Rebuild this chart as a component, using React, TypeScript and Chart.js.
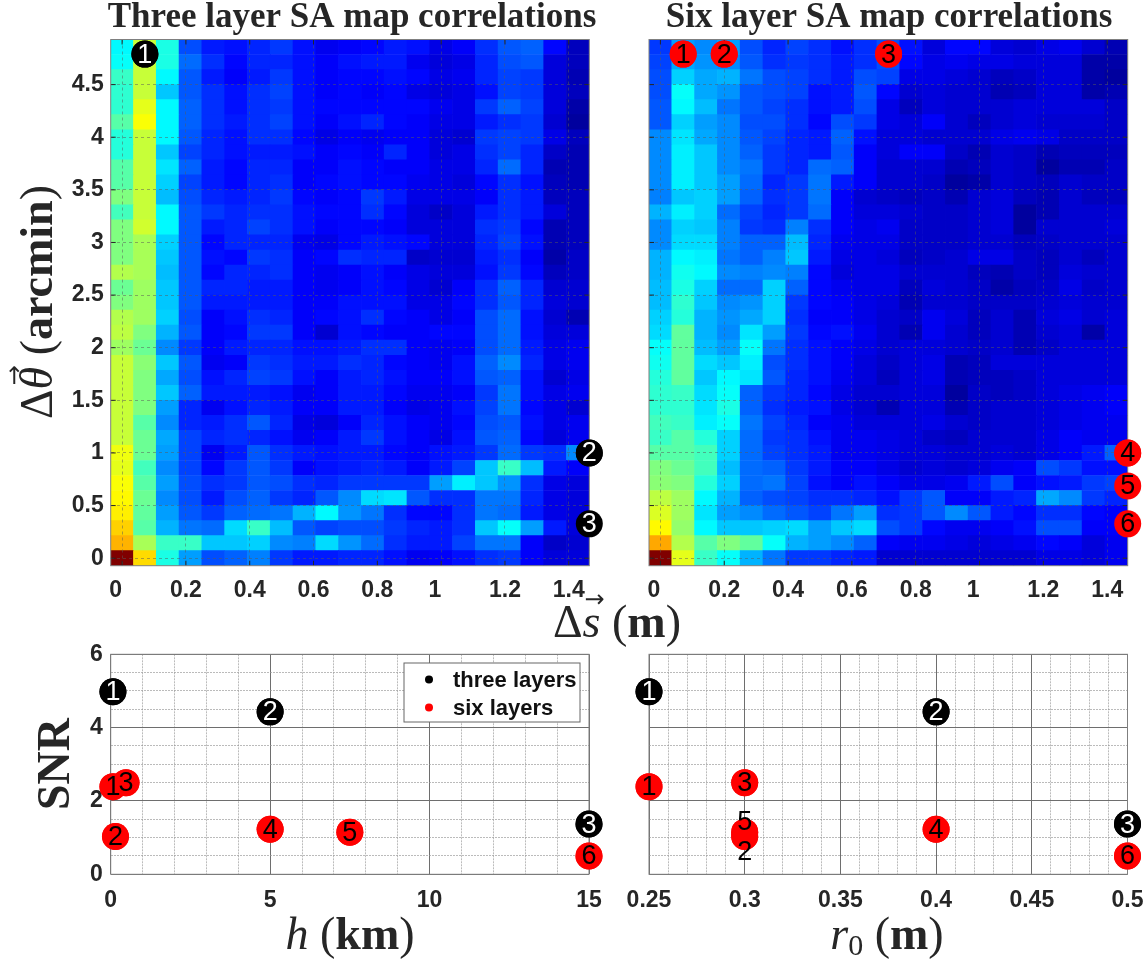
import React, { useEffect, useRef } from "react";
import { Chart, registerables } from "chart.js";

Chart.register(...registerables);

const W = 1147;
const H = 961;

// Heat map values: position on the jet scale in percent, rows listed top to bottom.
const threeLayerMap: number[][] = [
  [37,57,40,20,15,14,16,18,14,11,12,13,15,14,10,12,17,21,22,13,6],
  [38,57,40,23,17,13,16,16,14,12,14,15,15,11,9,10,16,20,21,9,6],
  [43,57,37,21,15,12,15,18,14,12,13,13,14,13,10,11,16,19,18,9,5],
  [42,57,32,21,17,14,17,19,14,12,13,12,13,10,9,10,14,19,18,9,6],
  [42,60,37,22,17,14,17,18,14,13,13,13,13,13,11,10,18,22,19,9,4],
  [46,62,37,22,17,15,17,19,14,12,14,16,13,12,10,10,15,17,18,8,3],
  [41,57,37,21,16,14,17,17,13,10,12,11,12,12,9,8,18,19,18,10,6],
  [41,57,32,19,16,14,15,15,14,12,13,12,16,12,9,10,17,19,16,7,5],
  [46,57,35,22,15,13,16,16,12,12,14,13,12,12,10,10,16,23,16,5,5],
  [46,57,33,19,15,13,16,17,12,13,14,13,13,11,10,9,13,17,14,6,5],
  [50,57,31,20,16,15,16,18,13,12,13,18,15,10,10,10,12,17,15,6,6],
  [44,57,37,21,18,16,17,17,14,13,13,17,13,9,7,9,15,17,15,9,6],
  [50,58,37,21,15,16,19,17,14,12,13,13,12,9,9,9,17,18,13,5,6],
  [50,54,33,21,13,16,16,16,11,10,13,15,14,13,9,9,16,19,14,5,6],
  [50,54,32,21,14,13,18,17,12,13,17,16,16,7,8,8,15,17,12,4,7],
  [55,54,31,21,13,16,16,17,12,11,12,14,12,10,9,9,14,18,13,6,7],
  [48,53,32,21,16,16,15,15,12,11,12,14,13,10,8,12,17,22,16,8,8],
  [50,53,32,21,15,15,15,15,12,12,14,14,14,10,10,13,17,21,16,9,8],
  [55,53,33,20,12,14,17,16,12,13,14,17,13,12,10,12,20,23,14,8,5],
  [56,50,30,21,12,13,18,18,12,8,14,13,12,12,13,13,20,23,14,9,9],
  [53,48,26,18,12,15,16,16,14,14,15,17,17,12,11,12,20,23,15,10,11],
  [57,51,32,21,11,12,18,17,15,15,17,16,13,12,11,14,22,26,16,10,11],
  [57,50,29,20,14,16,19,18,14,12,15,16,14,12,12,14,21,22,14,8,10],
  [57,50,32,22,15,15,15,14,11,12,15,15,13,11,11,12,18,24,14,10,11],
  [57,50,28,16,11,14,16,15,12,12,15,15,12,10,11,14,19,24,13,10,8],
  [57,46,26,16,15,17,21,16,10,9,12,16,14,12,11,13,20,21,14,10,11],
  [57,48,29,19,16,17,16,14,11,12,15,18,14,12,10,14,21,22,13,9,11],
  [61,48,28,19,11,15,21,17,15,14,15,15,13,12,14,15,18,23,18,17,26],
  [60,44,26,19,13,18,21,18,12,14,15,16,15,12,15,19,32,43,31,15,12],
  [62,46,28,20,17,18,21,20,17,16,18,18,18,18,28,36,32,27,17,10,9],
  [63,48,26,20,15,20,22,18,16,21,26,34,35,21,17,17,24,24,16,10,9],
  [64,47,28,21,18,22,23,24,30,37,27,24,17,13,13,17,24,23,15,10,9],
  [67,46,30,24,23,34,43,31,21,19,20,20,18,16,15,17,32,38,28,15,9],
  [70,54,43,43,32,32,33,26,25,34,27,23,17,15,15,19,24,24,12,7,8],
  [100,66,40,28,20,22,25,18,15,15,16,16,14,11,12,14,17,18,12,9,9],
];

const sixLayerMap: number[][] = [
  [18,28,26,28,20,16,19,17,14,17,20,14,9,13,13,9,8,10,11,8,5],
  [19,29,27,26,21,17,18,17,15,17,20,13,10,11,10,10,9,9,9,4,4],
  [20,33,29,30,24,20,19,17,15,20,19,10,10,9,8,6,7,9,9,4,3],
  [20,38,29,27,21,20,19,14,15,21,13,8,9,8,8,5,6,9,9,4,5],
  [21,37,31,24,21,19,17,14,15,20,10,6,9,8,8,8,9,9,9,9,7],
  [21,33,28,26,20,20,17,13,20,18,10,9,12,8,6,8,9,8,8,8,7],
  [26,35,29,26,21,19,16,15,22,14,9,9,8,8,8,10,11,10,7,7,7],
  [26,36,32,26,22,18,16,15,21,12,9,12,12,7,5,8,7,5,6,6,6],
  [26,36,32,26,24,18,16,23,22,12,8,8,8,5,6,8,7,3,5,5,7],
  [26,36,32,28,23,16,18,24,15,12,8,8,7,3,4,8,7,6,8,7,7],
  [25,32,33,28,22,17,18,24,12,8,7,6,7,5,8,9,6,5,8,6,6],
  [30,36,33,23,19,16,18,23,12,9,9,8,7,7,8,9,3,5,8,8,8],
  [26,33,32,25,18,17,25,17,12,10,11,7,7,7,8,9,3,8,8,8,9],
  [26,34,34,25,22,22,31,16,11,10,10,7,7,7,8,8,6,7,8,8,8],
  [30,37,36,24,22,25,32,15,10,10,9,6,7,8,10,10,7,6,8,6,8],
  [30,39,37,26,25,26,25,13,9,10,10,8,8,8,6,5,7,6,9,8,8],
  [31,40,33,23,23,33,22,13,11,10,10,6,9,8,7,4,6,7,10,7,8],
  [31,42,32,26,27,33,18,13,12,10,9,5,8,8,7,7,7,8,9,8,8],
  [33,41,30,27,29,33,17,12,12,10,8,7,11,9,6,8,5,9,10,8,9],
  [34,47,30,26,35,28,18,13,14,11,8,5,11,8,6,8,5,8,9,4,9],
  [38,47,31,28,38,24,17,14,12,10,8,9,9,8,7,8,5,7,9,9,9],
  [39,47,34,32,36,20,17,14,12,9,7,9,10,5,6,9,9,9,9,9,9],
  [41,47,32,37,35,21,16,14,11,9,6,9,10,5,6,6,7,9,9,9,9],
  [42,43,34,38,22,18,16,13,10,8,8,9,9,3,7,6,7,9,10,11,12],
  [42,42,35,40,22,17,15,14,10,8,5,9,9,5,7,8,8,9,10,11,12],
  [44,43,36,38,24,19,16,12,11,9,9,9,10,8,7,8,8,9,10,11,11],
  [43,46,41,33,23,18,17,14,11,11,10,9,7,6,8,8,8,10,12,11,11],
  [46,46,44,33,23,19,17,15,11,11,10,9,9,8,8,9,8,10,12,15,22],
  [50,48,44,31,23,22,18,15,12,12,10,8,9,8,9,11,12,20,18,14,14],
  [51,50,41,33,23,24,19,14,12,14,12,10,10,11,15,20,12,14,15,18,19],
  [56,53,37,30,22,20,19,17,17,16,14,18,21,12,12,15,16,29,26,18,16],
  [59,53,35,28,26,23,21,19,24,28,17,18,21,26,21,15,13,17,17,13,12],
  [63,52,37,32,32,33,34,28,32,34,20,18,13,11,11,12,14,20,20,12,12],
  [71,55,46,50,47,38,30,28,26,22,12,11,11,10,9,10,11,13,12,9,11],
  [100,60,43,38,30,24,18,18,16,15,8,8,8,8,8,8,8,10,10,9,11],
];

// Numbered markers on the maps
const threeMapS = [0.0714, 1.4643, 1.4643];
const threeMapTheta = [4.79, 1.0, 0.326];
const sixMapS = [0.0714, 0.2, 0.715, 1.4643, 1.4643, 1.4643];
const sixMapTheta = [4.79, 4.79, 4.79, 1.0, 0.687, 0.326];

// SNR panels
const threeH = [0.07, 5, 15];
const threeR0 = [0.25, 0.4, 0.5];
const threeSnr = [4.98, 4.43, 1.37];
const sixH = [0.07, 0.15, 0.48, 5, 7.5, 15];
const sixR0 = [0.25, 0.3, 0.3, 0.4, 0.3, 0.5];
const sixSnr = [2.39, 1.03, 2.5, 1.23, 1.15, 0.5];
const sixSnrLabelR0 = [2.39, 0.63, 2.5, 1.23, 1.45, 0.5];

const threeNames = ["1", "2", "3"];
const sixNames = ["1", "2", "3", "4", "5", "6"];

// Axis ticks
const mapSTicks = [0, 0.2, 0.4, 0.6, 0.8, 1, 1.2, 1.4];
const mapThetaTicks = [0, 0.5, 1, 1.5, 2, 2.5, 3, 3.5, 4, 4.5];
const hMajor = [0, 5, 10, 15];
const r0Major = ["0.25", "0.3", "0.35", "0.4", "0.45", "0.5"];
const snrMajor = [0, 2, 4, 6];

const INK = "#262626";
const TICK_FONT = { family: '"Liberation Sans", Arial, sans-serif', weight: "bold" as const, size: 23 };
const SERIF = '"Liberation Serif", serif';

function jet(p: number): string {
  const v = p / 100;
  const c = (x: number) => Math.round(255 * Math.max(0, Math.min(1, x)));
  return `rgb(${c(Math.min(4 * v - 1.5, -4 * v + 4.5))},${c(Math.min(4 * v - 0.5, -4 * v + 3.5))},${c(
    Math.min(4 * v + 0.5, -4 * v + 2.5)
  )})`;
}

const extras = {
  id: "extras",
  afterDraw(chart: any, _a: any, o: any) {
    const { ctx, chartArea: a } = chart;
    ctx.save();
    if (o.innerTicks) {
      ctx.strokeStyle = INK;
      ctx.lineWidth = 1;
      ctx.beginPath();
      for (const v of mapSTicks) {
        const x = chart.scales.x.getPixelForValue(v);
        ctx.moveTo(x, a.bottom);
        ctx.lineTo(x, a.bottom - 5);
        ctx.moveTo(x, a.top);
        ctx.lineTo(x, a.top + 5);
      }
      for (const v of mapThetaTicks) {
        const y = chart.scales.y.getPixelForValue(v);
        ctx.moveTo(a.left, y);
        ctx.lineTo(a.left + 5, y);
        ctx.moveTo(a.right, y);
        ctx.lineTo(a.right - 5, y);
      }
      ctx.stroke();
    }
    ctx.strokeStyle = "#7f7f7f";
    ctx.lineWidth = 1;
    ctx.strokeRect(a.left, a.top, a.right - a.left, a.bottom - a.top);

    // numbered markers above the grid
    chart.data.datasets.forEach((ds: any, i: number) => {
      if (ds.names) chart.getDatasetMeta(i).data.forEach((pt: any) => pt.draw(ctx));
    });
    chart.data.datasets.forEach((ds: any, i: number) => {
      if (!ds.names) return;
      ctx.fillStyle = ds.digitColor;
      ctx.font = `${o.digitSize}px "Liberation Sans", Arial, sans-serif`;
      ctx.textAlign = "center";
      ctx.textBaseline = "middle";
      chart.getDatasetMeta(i).data.forEach((pt: any, k: number) => {
        const y = ds.labelY ? chart.scales.y.getPixelForValue(ds.labelY[k]) : pt.y;
        ctx.fillText(ds.names[k], pt.x, y + 1);
      });
    });

    if (o.legend) {
      const b = o.legend;
      ctx.fillStyle = "#fff";
      ctx.strokeStyle = "#666";
      ctx.fillRect(b.x, b.y, b.w, b.h);
      ctx.strokeRect(b.x, b.y, b.w, b.h);
      ctx.font = 'bold 22px "Liberation Sans", Arial, sans-serif';
      ctx.textAlign = "left";
      ctx.textBaseline = "middle";
      chart.data.datasets
        .filter((d: any) => d.names)
        .forEach((d: any, k: number) => {
          const y = b.y + 16.5 + k * 28;
          ctx.fillStyle = d.backgroundColor;
          ctx.beginPath();
          ctx.arc(b.x + 25, y, 4, 0, Math.PI * 2);
          ctx.fill();
          ctx.fillStyle = "#111";
          ctx.fillText(d.label, b.x + 49, y + 1);
        });
    }

    for (const t of o.texts || []) {
      ctx.save();
      ctx.translate(t.x, t.y);
      ctx.rotate(t.rotate || 0);
      ctx.fillStyle = INK;
      ctx.textBaseline = "middle";
      ctx.textAlign = "left";
      let total = 0;
      for (const s of t.parts) {
        ctx.font = s.font;
        total += ctx.measureText(s.text).width;
      }
      let x = -total / 2;
      for (const s of t.parts) {
        ctx.font = s.font;
        const w = ctx.measureText(s.text).width;
        ctx.fillText(s.text, x, s.dy || 0);
        if (s.over) {
          ctx.font = '24px "DejaVu Sans", sans-serif';
          ctx.textAlign = "center";
          ctx.fillText(s.over, x + w / 2 + 3, -24);
          ctx.textAlign = "left";
        }
        x += w;
      }
      ctx.restore();
    }
    ctx.restore();
  },
};

function fixX(s: any, h: number) {
  s.height = h;
  s.paddingLeft = 0;
  s.paddingRight = 0;
}
function fixY(s: any, w: number) {
  s.width = w;
  s.paddingTop = 0;
  s.paddingBottom = 0;
}

function heatConfig(
  rows: number[][],
  markerS: number[],
  markerTheta: number[],
  names: string[],
  markerColor: string,
  digitColor: string,
  box: { l: number; t: number; r: number; b: number },
  showY: boolean,
  texts: any[]
) {
  const nCols = rows[0].length;
  const nRows = rows.length;
  const dx = 1.5 / nCols;
  const dy = 5 / nRows;
  const cells: any[] = [];
  const colors: string[] = [];
  rows.forEach((row, r) => {
    const yc = (nRows - 1 - r) * dy;
    row.forEach((v, c) => {
      cells.push({ x: c * dx, y: [yc - dy / 2, yc + dy / 2] });
      colors.push(jet(v));
    });
  });
  return {
    type: "bar",
    data: {
      datasets: [
        {
          type: "scatter",
          data: markerS.map((x, i) => ({ x, y: markerTheta[i] })),
          backgroundColor: markerColor,
          borderWidth: 0,
          pointRadius: 13.5,
          clip: false,
          names,
          digitColor,
          order: 0,
        },
        {
          type: "bar",
          data: cells,
          backgroundColor: colors,
          borderWidth: 0,
          borderSkipped: false,
          barPercentage: 1,
          categoryPercentage: 1,
          grouped: false,
          order: 1,
        },
      ],
    },
    options: {
      responsive: false,
      animation: false,
      events: [],
      devicePixelRatio: 1,
      layout: { padding: { left: box.l - 60, top: box.t, right: W - box.r, bottom: H - box.b - 40 } },
      plugins: {
        legend: { display: false },
        tooltip: { enabled: false },
        extras: { innerTicks: true, digitSize: 27, texts },
      },
      scales: {
        x: {
          type: "linear",
          offset: false,
          min: -dx / 2,
          max: 1.5 - dx / 2,
          afterFit: (s: any) => fixX(s, 40),
          afterBuildTicks: (s: any) => {
            s.ticks = mapSTicks.map((value) => ({ value }));
          },
          grid: { offset: false, z: 1, color: "rgba(90,90,90,0.5)", lineWidth: 1, drawTicks: false },
          border: { display: false, dash: [3, 3] },
          ticks: {
            autoSkip: false,
            maxRotation: 0,
            padding: 11,
            color: INK,
            font: TICK_FONT,
            callback: (v: number) => (v === 0 || v === 1 ? `${v}  ` : String(v)),
          },
        },
        y: {
          type: "linear",
          min: -dy / 2,
          max: 5 - dy / 2,
          afterFit: (s: any) => fixY(s, 60),
          afterBuildTicks: (s: any) => {
            s.ticks = mapThetaTicks.map((value) => ({ value }));
          },
          grid: { z: 1, color: "rgba(90,90,90,0.5)", lineWidth: 1, drawTicks: false },
          border: { display: false, dash: [3, 3] },
          ticks: {
            display: showY,
            autoSkip: false,
            padding: 7,
            color: INK,
            font: TICK_FONT,
            callback: (v: number) => String(v),
          },
        },
      },
    },
  };
}

function snrConfig(
  threeX: number[],
  sixX: number[],
  xMin: number,
  xMax: number,
  xStep: number,
  isMajorX: (v: number) => boolean,
  box: { l: number; t: number; r: number; b: number },
  showY: boolean,
  texts: any[],
  legend: any,
  labelY?: number[]
) {
  const xTicks: number[] = [];
  const n = Math.round((xMax - xMin) / xStep);
  for (let i = 0; i <= n; i++) xTicks.push(Number((xMin + i * xStep).toFixed(4)));
  const yTicks: number[] = [];
  for (let i = 0; i <= 12; i++) yTicks.push(i / 2);
  const gridColor = (maj: (v: number) => boolean) => (c: any) =>
    c.tick && maj(c.tick.value) ? "#6e6e6e" : "rgba(150,150,150,0.65)";
  const gridDash = (maj: (v: number) => boolean) => (c: any) =>
    c.tick && maj(c.tick.value) ? [] : [2, 1];
  const isMajorY = (v: number) => snrMajor.includes(v);
  return {
    type: "scatter",
    data: {
      datasets: [
        {
          label: "three layers",
          data: threeX.map((x, i) => ({ x, y: threeSnr[i] })),
          backgroundColor: "#000000",
          borderWidth: 0,
          pointRadius: 13.5,
          clip: false,
          names: threeNames,
          digitColor: "#ffffff",
        },
        {
          label: "six layers",
          data: sixX.map((x, i) => ({ x, y: sixSnr[i] })),
          backgroundColor: "#ff0000",
          borderWidth: 0,
          pointRadius: 13.5,
          clip: false,
          names: sixNames,
          digitColor: "#000000",
          labelY,
        },
      ],
    },
    options: {
      responsive: false,
      animation: false,
      events: [],
      devicePixelRatio: 1,
      layout: { padding: { left: box.l - 60, top: box.t, right: W - box.r, bottom: H - box.b - 40 } },
      plugins: {
        legend: { display: false },
        tooltip: { enabled: false },
        extras: { digitSize: 27, texts, legend },
      },
      scales: {
        x: {
          type: "linear",
          min: xMin,
          max: xMax,
          afterFit: (s: any) => fixX(s, 40),
          afterBuildTicks: (s: any) => {
            s.ticks = xTicks.map((value) => ({ value }));
          },
          grid: { color: gridColor(isMajorX), lineWidth: 1, drawTicks: false },
          border: { display: false, dash: gridDash(isMajorX) },
          ticks: {
            autoSkip: false,
            maxRotation: 0,
            padding: 13,
            color: INK,
            font: TICK_FONT,
            callback: (v: number) => (isMajorX(v) ? String(v) : ""),
          },
        },
        y: {
          type: "linear",
          min: 0,
          max: 6,
          afterFit: (s: any) => fixY(s, 60),
          afterBuildTicks: (s: any) => {
            s.ticks = yTicks.map((value) => ({ value }));
          },
          grid: { color: gridColor(isMajorY), lineWidth: 1, drawTicks: false },
          border: { display: false, dash: gridDash(isMajorY) },
          ticks: {
            display: showY,
            autoSkip: false,
            padding: 8,
            color: INK,
            font: TICK_FONT,
            callback: (v: number) => (isMajorY(v) ? String(v) : ""),
          },
        },
      },
    },
  };
}

const ROT = -Math.PI / 2;
const leftTexts = [
  { x: 352, y: 18, parts: [{ text: "Three layer SA map correlations", font: `bold 35px ${SERIF}` }] },
  {
    x: 40,
    y: 302,
    rotate: ROT,
    parts: [
      { text: "Δ", font: `46px ${SERIF}` },
      { text: "θ", font: `italic 46px ${SERIF}`, over: "→" },
      { text: " (", font: `46px ${SERIF}` },
      { text: "arcmin", font: `bold 46px ${SERIF}` },
      { text: ")", font: `46px ${SERIF}` },
    ],
  },
  {
    x: 617,
    y: 625,
    parts: [
      { text: "Δ", font: `46px ${SERIF}` },
      { text: "s", font: `italic 46px ${SERIF}`, over: "→" },
      { text: " (", font: `46px ${SERIF}` },
      { text: "m", font: `bold 46px ${SERIF}` },
      { text: ")", font: `46px ${SERIF}` },
    ],
  },
];
const rightTexts = [
  { x: 889, y: 18, parts: [{ text: "Six layer SA map correlations", font: `bold 35px ${SERIF}` }] },
];
const snrLeftTexts = [
  { x: 57, y: 764, rotate: ROT, parts: [{ text: "SNR", font: `bold 46px ${SERIF}` }] },
  {
    x: 350,
    y: 937,
    parts: [
      { text: "h", font: `italic 46px ${SERIF}` },
      { text: " (", font: `46px ${SERIF}` },
      { text: "km", font: `bold 46px ${SERIF}` },
      { text: ")", font: `46px ${SERIF}` },
    ],
  },
];
const snrRightTexts = [
  {
    x: 887,
    y: 937,
    parts: [
      { text: "r", font: `italic 46px ${SERIF}` },
      { text: "0", font: `30px ${SERIF}`, dy: 10 },
      { text: " (", font: `46px ${SERIF}` },
      { text: "m", font: `bold 46px ${SERIF}` },
      { text: ")", font: `46px ${SERIF}` },
    ],
  },
];

const boxes = {
  mapL: { l: 110.7, t: 39.5, r: 589.3, b: 565.7 },
  mapR: { l: 649, t: 39.5, r: 1127.7, b: 565.7 },
  snrL: { l: 110.7, t: 654.3, r: 589, b: 874.3 },
  snrR: { l: 649, t: 654.3, r: 1127.5, b: 874.3 },
};

function Panel({ config }: { config: () => any }) {
  const ref = useRef<HTMLCanvasElement>(null);
  useEffect(() => {
    const cfg = config();
    cfg.plugins = [extras];
    const chart = new Chart(ref.current as HTMLCanvasElement, cfg);
    return () => chart.destroy();
  }, []);
  return (
    <canvas
      ref={ref}
      width={W}
      height={H}
      style={{ position: "absolute", left: 0, top: 0, width: W, height: H, display: "block" }}
    />
  );
}

export default function App() {
  return (
    <div style={{ position: "absolute", left: 0, top: 0, width: W, height: H, overflow: "hidden", background: "#fff" }}>
      <Panel
        config={() =>
          heatConfig(threeLayerMap, threeMapS, threeMapTheta, threeNames, "#000000", "#ffffff", boxes.mapL, true, leftTexts)
        }
      />
      <Panel
        config={() =>
          heatConfig(sixLayerMap, sixMapS, sixMapTheta, sixNames, "#ff0000", "#000000", boxes.mapR, false, rightTexts)
        }
      />
      <Panel
        config={() =>
          snrConfig(threeH, sixH, 0, 15, 1, (v) => hMajor.includes(v), boxes.snrL, true, snrLeftTexts, {
            x: 404,
            y: 663,
            w: 176,
            h: 59,
          })
        }
      />
      <Panel
        config={() =>
          snrConfig(
            threeR0,
            sixR0,
            0.25,
            0.5,
            0.01,
            (v) => r0Major.includes(String(v)),
            boxes.snrR,
            false,
            snrRightTexts,
            null,
            sixSnrLabelR0
          )
        }
      />
    </div>
  );
}
